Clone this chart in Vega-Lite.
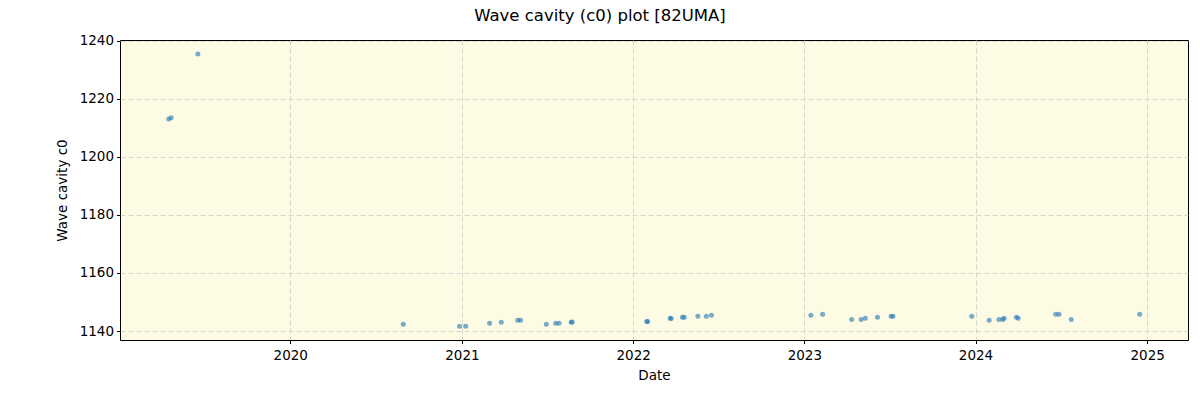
{
  "$schema": "https://vega.github.io/schema/vega-lite/v6.json",
  "autosize": "none",
  "width": 1068,
  "height": 300,
  "padding": {"left": 120, "top": 40, "right": 12, "bottom": 60},
  "background": "white",
  "title": {
    "text": "Wave cavity (c0) plot [82UMA]",
    "font": "DejaVu Sans",
    "fontSize": 16.5,
    "fontWeight": "normal",
    "color": "black",
    "anchor": "middle",
    "frame": "group",
    "dx": -54,
    "offset": 9
  },
  "config": {
    "view": {"fill": "#FDFBE3", "stroke": "black", "strokeWidth": 1},
    "axis": {
      "labelFont": "DejaVu Sans",
      "labelFontSize": 13.5,
      "labelColor": "black",
      "titleFont": "DejaVu Sans",
      "titleFontSize": 13.5,
      "titleFontWeight": "normal",
      "titleColor": "black",
      "tickColor": "black",
      "tickSize": 3.5,
      "domain": false,
      "grid": true,
      "gridColor": "#cccccc",
      "gridDash": [5, 3],
      "gridWidth": 0.8
    }
  },
  "data": {
    "values": [
      {"date": "2019-04-17", "c0": 1213.1},
      {"date": "2019-04-22", "c0": 1213.5},
      {"date": "2019-06-18", "c0": 1235.5},
      {"date": "2020-08-29", "c0": 1142.3},
      {"date": "2020-12-27", "c0": 1141.6},
      {"date": "2021-01-09", "c0": 1141.6},
      {"date": "2021-03-01", "c0": 1142.7},
      {"date": "2021-03-26", "c0": 1143.0},
      {"date": "2021-04-30", "c0": 1143.7},
      {"date": "2021-05-06", "c0": 1143.7},
      {"date": "2021-06-30", "c0": 1142.3},
      {"date": "2021-07-20", "c0": 1142.7},
      {"date": "2021-07-27", "c0": 1142.7},
      {"date": "2021-08-22", "c0": 1143.0},
      {"date": "2021-08-24", "c0": 1143.1},
      {"date": "2022-01-30", "c0": 1143.3},
      {"date": "2022-02-01", "c0": 1143.3},
      {"date": "2022-03-21", "c0": 1144.4},
      {"date": "2022-03-23", "c0": 1144.3},
      {"date": "2022-04-16", "c0": 1144.7},
      {"date": "2022-04-20", "c0": 1144.7},
      {"date": "2022-05-19", "c0": 1145.1},
      {"date": "2022-06-06", "c0": 1145.1},
      {"date": "2022-06-17", "c0": 1145.4},
      {"date": "2023-01-15", "c0": 1145.4},
      {"date": "2023-02-09", "c0": 1145.8},
      {"date": "2023-04-12", "c0": 1144.0},
      {"date": "2023-05-02", "c0": 1144.0},
      {"date": "2023-05-11", "c0": 1144.4},
      {"date": "2023-06-06", "c0": 1144.7},
      {"date": "2023-07-05", "c0": 1145.1},
      {"date": "2023-07-09", "c0": 1145.1},
      {"date": "2023-12-24", "c0": 1145.1},
      {"date": "2024-01-30", "c0": 1143.7},
      {"date": "2024-02-20", "c0": 1144.0},
      {"date": "2024-02-28", "c0": 1144.0},
      {"date": "2024-03-02", "c0": 1144.4},
      {"date": "2024-03-28", "c0": 1144.7},
      {"date": "2024-04-01", "c0": 1144.4},
      {"date": "2024-06-20", "c0": 1145.8},
      {"date": "2024-06-27", "c0": 1145.8},
      {"date": "2024-07-23", "c0": 1144.0},
      {"date": "2024-12-16", "c0": 1145.8}
    ]
  },
  "mark": {"type": "point", "filled": true, "color": "#1f77b4", "opacity": 0.6, "size": 25},
  "encoding": {
    "x": {
      "field": "date",
      "type": "temporal",
      "title": "Date",
      "scale": {"domain": ["2019-01-03", "2025-03-29"]},
      "axis": {"format": "%Y", "tickCount": {"interval": "year", "step": 1}, "labelPadding": 5, "titlePadding": 6}
    },
    "y": {
      "field": "c0",
      "type": "quantitative",
      "title": "Wave cavity c0",
      "scale": {"domain": [1136.9, 1240.3], "nice": false, "zero": false},
      "axis": {"values": [1140, 1160, 1180, 1200, 1220, 1240], "format": "d", "labelPadding": 3, "titlePadding": 10}
    }
  }
}
